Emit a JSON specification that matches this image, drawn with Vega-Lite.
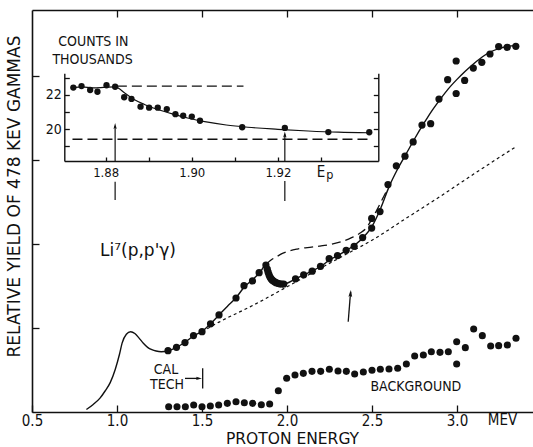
{
"$schema": "https://vega.github.io/schema/vega-lite/v6.json",
"width": 501, "height": 402,
"autosize": {"type": "none"},
"padding": {"left": 32, "top": 10, "right": 0, "bottom": 35},
"background": "white",
"config": {
  "view": {"stroke": null},
  "font": "DejaVu Sans Condensed, DejaVu Sans",
  "axis": {"grid": false, "domainColor": "#111", "tickColor": "#111", "labelColor": "#111", "titleColor": "#111", "domainWidth": 1.6, "tickWidth": 1.3, "titleFontWeight": "normal", "labelFont": "DejaVu Sans Condensed, DejaVu Sans", "titleFont": "DejaVu Sans Condensed, DejaVu Sans"}
},
"layer": [
 {
  "layer": [
   {
    "data": {"values": [
      {"x":1.30,"y":0.73},{"x":1.35,"y":0.77},{"x":1.40,"y":0.826},{"x":1.45,"y":0.91},{"x":1.50,"y":0.956},{"x":1.55,"y":1.05},{"x":1.60,"y":1.156},{"x":1.70,"y":1.357},{"x":1.747,"y":1.504},{"x":1.797,"y":1.56},{"x":1.836,"y":1.659},{"x":1.876,"y":1.75},
      {"x":1.884,"y":1.70},{"x":1.889,"y":1.665},{"x":1.894,"y":1.635},{"x":1.899,"y":1.61},{"x":1.905,"y":1.59},{"x":1.912,"y":1.573},{"x":1.919,"y":1.562},{"x":1.927,"y":1.55},{"x":1.936,"y":1.54},{"x":1.946,"y":1.532},{"x":1.957,"y":1.526},{"x":1.969,"y":1.524},{"x":1.981,"y":1.524},
      {"x":2.05,"y":1.585},{"x":2.098,"y":1.633},{"x":2.148,"y":1.677},{"x":2.197,"y":1.734},{"x":2.248,"y":1.826},{"x":2.297,"y":1.862},{"x":2.348,"y":1.925},{"x":2.395,"y":1.973},{"x":2.445,"y":2.077},{"x":2.498,"y":2.19},{"x":2.498,"y":2.305},{"x":2.547,"y":2.386},{"x":2.594,"y":2.708},{"x":2.643,"y":2.931},{"x":2.694,"y":3.046},{"x":2.742,"y":3.215},{"x":2.794,"y":3.416},{"x":2.845,"y":3.432},{"x":2.894,"y":3.725},{"x":2.945,"y":3.956},{"x":2.995,"y":3.792},{"x":2.995,"y":4.179},{"x":3.045,"y":3.948},{"x":3.096,"y":4.095},{"x":3.146,"y":4.163},{"x":3.194,"y":4.262},{"x":3.245,"y":4.35},{"x":3.295,"y":4.342},{"x":3.346,"y":4.353}
    ]},
    "mark": {"type": "point", "shape": "circle", "filled": true, "color": "#111", "size": 52, "opacity": 1},
    "encoding": {
      "x": {"field": "x", "type": "quantitative", "scale": {"domain": [0.5, 3.447], "nice": false, "zero": false},
        "axis": {"orient": "bottom", "values": [0.5, 1, 1.5, 2, 2.5, 3], "format": ".1f", "tickSize": -7, "labelPadding": 8.5, "labelFontSize": 15, "labelFlush": false, "labelOverlap": false, "title": "PROTON ENERGY", "titleFont": "DejaVu Sans", "titleFontSize": 15.5, "titleX": 260, "titleY": 26, "titleBaseline": "middle", "titleAlign": "center"}},
      "y": {"field": "y", "type": "quantitative", "scale": {"domain": [0, 4.786], "nice": false, "zero": false},
        "axis": {"orient": "left", "values": [1, 2, 3, 4], "labels": false, "tickSize": -7, "title": "RELATIVE YIELD OF 478 KEV GAMMAS", "titleFont": "DejaVu Sans", "titleFontSize": 17, "titleX": -18, "titleY": 186, "titleAngle": 270, "titleAlign": "center", "titleBaseline": "middle"}}
    }
   },
   {
    "data": {"values": [
      {"x":0.82,"y":0.03},{"x":0.86,"y":0.09},{"x":0.90,"y":0.165},{"x":0.93,"y":0.25},{"x":0.96,"y":0.35},{"x":0.99,"y":0.51},{"x":1.015,"y":0.69},{"x":1.03,"y":0.82},{"x":1.055,"y":0.925},{"x":1.08,"y":0.956},{"x":1.105,"y":0.935},{"x":1.13,"y":0.88},{"x":1.155,"y":0.818},{"x":1.18,"y":0.77},{"x":1.205,"y":0.742},{"x":1.23,"y":0.726},{"x":1.26,"y":0.718},{"x":1.30,"y":0.728},{"x":1.35,"y":0.77},{"x":1.40,"y":0.83},{"x":1.45,"y":0.905},{"x":1.50,"y":0.96},{"x":1.55,"y":1.05},{"x":1.60,"y":1.155},{"x":1.65,"y":1.26},{"x":1.70,"y":1.36},{"x":1.75,"y":1.49},{"x":1.80,"y":1.58},{"x":1.84,"y":1.66},{"x":1.876,"y":1.75},{"x":1.885,"y":1.69},{"x":1.895,"y":1.625},{"x":1.91,"y":1.575},{"x":1.93,"y":1.545},{"x":1.955,"y":1.527},{"x":1.98,"y":1.524},{"x":2.05,"y":1.585},{"x":2.10,"y":1.633},{"x":2.15,"y":1.68},{"x":2.20,"y":1.735},{"x":2.25,"y":1.81},{"x":2.30,"y":1.862},{"x":2.35,"y":1.925},{"x":2.40,"y":1.99},{"x":2.45,"y":2.08},{"x":2.50,"y":2.21},{"x":2.55,"y":2.42},{"x":2.60,"y":2.68},{"x":2.65,"y":2.89},{"x":2.70,"y":3.07},{"x":2.75,"y":3.25},{"x":2.80,"y":3.42},{"x":2.85,"y":3.58},{"x":2.90,"y":3.72},{"x":2.95,"y":3.85},{"x":3.00,"y":3.96},{"x":3.05,"y":4.06},{"x":3.10,"y":4.15},{"x":3.15,"y":4.23},{"x":3.20,"y":4.29},{"x":3.25,"y":4.33},{"x":3.30,"y":4.355},{"x":3.35,"y":4.365}
    ]},
    "mark": {"type": "line", "interpolate": "monotone", "color": "#111", "strokeWidth": 1.4},
    "encoding": {
      "x": {"field": "x", "type": "quantitative", "scale": {"domain": [0.5, 3.447], "nice": false, "zero": false}, "axis": null},
      "y": {"field": "y", "type": "quantitative", "scale": {"domain": [0, 4.786], "nice": false, "zero": false}, "axis": null}
    }
   },
   {
    "data": {"values": [
      {"x":1.878,"y":1.76},{"x":1.91,"y":1.815},{"x":1.94,"y":1.85},{"x":1.97,"y":1.885},{"x":2.0,"y":1.91},{"x":2.06,"y":1.94},{"x":2.12,"y":1.958},{"x":2.19,"y":1.975},{"x":2.26,"y":1.997},{"x":2.32,"y":2.027},{"x":2.38,"y":2.075},{"x":2.43,"y":2.13},{"x":2.47,"y":2.2},{"x":2.50,"y":2.3},{"x":2.53,"y":2.41},{"x":2.56,"y":2.53},{"x":2.585,"y":2.63},{"x":2.60,"y":2.70}
    ]},
    "mark": {"type": "line", "interpolate": "monotone", "color": "#111", "strokeWidth": 1.3, "strokeDash": [9, 5]},
    "encoding": {
      "x": {"field": "x", "type": "quantitative", "scale": {"domain": [0.5, 3.447], "nice": false, "zero": false}, "axis": null},
      "y": {"field": "y", "type": "quantitative", "scale": {"domain": [0, 4.786], "nice": false, "zero": false}, "axis": null}
    }
   },
   {
    "data": {"values": [
      {"x":1.50,"y":0.956},{"x":1.60,"y":1.07},{"x":1.80,"y":1.27},{"x":2.00,"y":1.49},{"x":2.20,"y":1.715},{"x":2.35,"y":1.88},{"x":2.50,"y":2.045},{"x":2.70,"y":2.305},{"x":2.90,"y":2.565},{"x":3.10,"y":2.835},{"x":3.34,"y":3.15}
    ]},
    "mark": {"type": "line", "interpolate": "monotone", "color": "#111", "strokeWidth": 1.2, "strokeDash": [3, 3]},
    "encoding": {
      "x": {"field": "x", "type": "quantitative", "scale": {"domain": [0.5, 3.447], "nice": false, "zero": false},
        "axis": {"orient": "top", "values": [1, 1.5, 2, 2.5, 3], "labels": false, "tickSize": -7, "title": null}},
      "y": {"field": "y", "type": "quantitative", "scale": {"domain": [0, 4.786], "nice": false, "zero": false}, "axis": null}
    }
   },
   {
    "data": {"values": [
      {"x":1.304,"y":0.063},{"x":1.353,"y":0.063},{"x":1.402,"y":0.063},{"x":1.451,"y":0.083},{"x":1.5,"y":0.063},{"x":1.549,"y":0.071},{"x":1.598,"y":0.083},{"x":1.649,"y":0.103},{"x":1.7,"y":0.123},{"x":1.749,"y":0.111},{"x":1.798,"y":0.103},{"x":1.849,"y":0.087},{"x":1.898,"y":0.095},{"x":1.949,"y":0.254},{"x":1.998,"y":0.401},{"x":2.047,"y":0.44},{"x":2.096,"y":0.46},{"x":2.147,"y":0.484},{"x":2.198,"y":0.484},{"x":2.249,"y":0.508},{"x":2.3,"y":0.488},{"x":2.349,"y":0.484},{"x":2.398,"y":0.452},{"x":2.449,"y":0.476},{"x":2.5,"y":0.496},{"x":2.549,"y":0.508},{"x":2.6,"y":0.512},{"x":2.651,"y":0.52},{"x":2.702,"y":0.571},{"x":2.751,"y":0.667},{"x":2.802,"y":0.679},{"x":2.849,"y":0.718},{"x":2.9,"y":0.71},{"x":2.949,"y":0.718},{"x":2.998,"y":0.837},{"x":2.998,"y":0.571},{"x":3.049,"y":0.766},{"x":3.098,"y":0.988},{"x":3.149,"y":0.909},{"x":3.198,"y":0.786},{"x":3.245,"y":0.79},{"x":3.296,"y":0.798},{"x":3.347,"y":0.877}
    ]},
    "mark": {"type": "point", "shape": "circle", "filled": true, "color": "#111", "size": 50, "opacity": 1},
    "encoding": {
      "x": {"field": "x", "type": "quantitative", "scale": {"domain": [0.5, 3.447], "nice": false, "zero": false}, "axis": null},
      "y": {"field": "y", "type": "quantitative", "scale": {"domain": [0, 4.786], "nice": false, "zero": false}, "axis": null}
    }
   },
   {
    "data": {"values": [
      {"x":2.36,"y":1.075,"x2":2.374,"y2":1.43},
      {"x":1.40,"y":0.40,"x2":1.48,"y2":0.40},
      {"x":1.504,"y":0.28,"x2":1.504,"y2":0.52}
    ]},
    "mark": {"type": "rule", "color": "#111", "strokeWidth": 1.3},
    "encoding": {
      "x": {"field": "x", "type": "quantitative", "scale": {"domain": [0.5, 3.447], "nice": false, "zero": false}, "axis": null},
      "y": {"field": "y", "type": "quantitative", "scale": {"domain": [0, 4.786], "nice": false, "zero": false}, "axis": null},
      "x2": {"field": "x2"},
      "y2": {"field": "y2"}
    }
   },
   {
    "data": {"values": [{"x":2.374,"y":1.411}]},
    "mark": {"type": "point", "shape": "M 0 -1 L 0.55 1 L 0 0.6 L -0.55 1 Z", "filled": true, "color": "#111", "size": 49, "angle": 5, "opacity": 1},
    "encoding": {
      "x": {"field": "x", "type": "quantitative", "scale": {"domain": [0.5, 3.447], "nice": false, "zero": false}, "axis": null},
      "y": {"field": "y", "type": "quantitative", "scale": {"domain": [0, 4.786], "nice": false, "zero": false}, "axis": null}
    }
   },
   {
    "data": {"values": [{"x":1.482,"y":0.40}]},
    "mark": {"type": "point", "shape": "M 0 -1 L 0.55 1 L 0 0.6 L -0.55 1 Z", "filled": true, "color": "#111", "size": 36, "angle": 90, "opacity": 1},
    "encoding": {
      "x": {"field": "x", "type": "quantitative", "scale": {"domain": [0.5, 3.447], "nice": false, "zero": false}, "axis": null},
      "y": {"field": "y", "type": "quantitative", "scale": {"domain": [0, 4.786], "nice": false, "zero": false}, "axis": null}
    }
   },
   {
    "data": {"values": [
      {"x":0.861,"y":4.405,"t":"COUNTS IN"},
      {"x":0.856,"y":4.19,"t":"THOUSANDS"},
      {"x":1.288,"y":0.5,"t":"CAL"},
      {"x":1.294,"y":0.321,"t":"TECH"},
      {"x":2.758,"y":0.292,"t":"BACKGROUND"}
    ]},
    "mark": {"type": "text", "color": "#111", "fontSize": 14, "align": "center", "baseline": "middle", "font": "DejaVu Sans Condensed, DejaVu Sans"},
    "encoding": {
      "x": {"field": "x", "type": "quantitative", "scale": {"domain": [0.5, 3.447], "nice": false, "zero": false}, "axis": null},
      "y": {"field": "y", "type": "quantitative", "scale": {"domain": [0, 4.786], "nice": false, "zero": false}, "axis": null},
      "text": {"field": "t"}
    }
   },
   {
    "data": {"values": [{"x":3.268,"y":-0.1,"t":"MEV"}]},
    "mark": {"type": "text", "color": "#111", "fontSize": 15, "align": "center", "baseline": "middle", "font": "DejaVu Sans Condensed, DejaVu Sans"},
    "encoding": {
      "x": {"field": "x", "type": "quantitative", "scale": {"domain": [0.5, 3.447], "nice": false, "zero": false}, "axis": null},
      "y": {"field": "y", "type": "quantitative", "scale": {"domain": [0, 4.786], "nice": false, "zero": false}, "axis": null},
      "text": {"field": "t"}
    }
   },
   {
    "data": {"values": [{"x":0.9,"y":1.913,"t":"Li⁷(p,p'γ)"}]},
    "mark": {"type": "text", "color": "#111", "fontSize": 17, "align": "left", "baseline": "middle", "font": "DejaVu Sans"},
    "encoding": {
      "x": {"field": "x", "type": "quantitative", "scale": {"domain": [0.5, 3.447], "nice": false, "zero": false}, "axis": null},
      "y": {"field": "y", "type": "quantitative", "scale": {"domain": [0, 4.786], "nice": false, "zero": false}, "axis": null},
      "text": {"field": "t"}
    }
   }
  ],
  "resolve": {"axis": {"x": "independent", "y": "independent"}}
 },
 {
  "layer": [
   {
    "data": {"values": [
      {"x":1.8725,"y":22.43},{"x":1.8745,"y":22.47},{"x":1.877,"y":22.42},{"x":1.8795,"y":22.44},{"x":1.8822,"y":22.47},{"x":1.8845,"y":22.1},{"x":1.8865,"y":21.75},{"x":1.889,"y":21.45},{"x":1.892,"y":21.17},{"x":1.8955,"y":20.9},{"x":1.899,"y":20.66},{"x":1.903,"y":20.45},{"x":1.908,"y":20.25},{"x":1.913,"y":20.12},{"x":1.920,"y":20.0},{"x":1.927,"y":19.9},{"x":1.934,"y":19.83},{"x":1.941,"y":19.8}
    ]},
    "mark": {"type": "line", "interpolate": "monotone", "color": "#111", "strokeWidth": 1.2},
    "encoding": {
      "x": {"field": "x", "type": "quantitative", "scale": {"domain": [1.8704, 1.9433], "range": [32.3, 346.3], "nice": false, "zero": false},
        "axis": {"orient": "bottom", "offset": -251, "values": [1.88, 1.89, 1.9, 1.91, 1.92, 1.93], "tickSize": -4, "labelPadding": 9, "labelFontSize": 13, "labelFlush": false, "labelOverlap": false, "domainWidth": 1.4, "title": null,
          "labelExpr": "(datum.value < 1.885 || (datum.value > 1.895 && datum.value < 1.905) || (datum.value > 1.915 && datum.value < 1.925)) ? format(datum.value, '.2f') : ''"}},
      "y": {"field": "y", "type": "quantitative", "scale": {"domain": [18.152, 23.265], "range": [151, 63.3], "nice": false, "zero": false},
        "axis": {"orient": "left", "offset": -32.3, "values": [19, 20, 21, 22, 23], "tickSize": -5, "labelPadding": 8, "labelFontSize": 14, "domainWidth": 1.4, "title": null,
          "labelExpr": "(datum.value == 20 || datum.value == 22) ? datum.label : ''"}}
    }
   },
   {
    "data": {"values": [
      {"x":1.8725,"y":22.43},{"x":1.8744,"y":22.52},{"x":1.8764,"y":22.29},{"x":1.8781,"y":22.19},{"x":1.8802,"y":22.57},{"x":1.8822,"y":22.48},{"x":1.8843,"y":21.87},{"x":1.8860,"y":21.77},{"x":1.8881,"y":21.32},{"x":1.8901,"y":21.26},{"x":1.8921,"y":21.26},{"x":1.8942,"y":21.18},{"x":1.8962,"y":20.88},{"x":1.8980,"y":20.79},{"x":1.9000,"y":20.74},{"x":1.9019,"y":20.50},{"x":1.9117,"y":20.12},{"x":1.9216,"y":20.08},{"x":1.9317,"y":19.84},{"x":1.9412,"y":19.83}
    ]},
    "mark": {"type": "point", "shape": "circle", "filled": true, "color": "#111", "size": 40, "opacity": 1},
    "encoding": {
      "x": {"field": "x", "type": "quantitative", "scale": {"domain": [1.8704, 1.9433], "range": [32.3, 346.3], "nice": false, "zero": false}, "axis": null},
      "y": {"field": "y", "type": "quantitative", "scale": {"domain": [18.152, 23.265], "range": [151, 63.3], "nice": false, "zero": false},
        "axis": {"orient": "right", "offset": -154.7, "values": [19, 20, 21, 22, 23], "tickSize": -5, "labels": false, "domainWidth": 1.4, "title": null}}
    }
   },
   {
    "data": {"values": [
      {"x":1.8826,"x2":1.912,"y":22.52},
      {"x":1.8723,"x2":1.9412,"y":19.42}
    ]},
    "mark": {"type": "rule", "color": "#111", "strokeWidth": 1.3, "strokeDash": [10, 5]},
    "encoding": {
      "x": {"field": "x", "type": "quantitative", "scale": {"domain": [1.8704, 1.9433], "range": [32.3, 346.3], "nice": false, "zero": false}, "axis": null},
      "x2": {"field": "x2"},
      "y": {"field": "y", "type": "quantitative", "scale": {"domain": [18.152, 23.265], "range": [151, 63.3], "nice": false, "zero": false}, "axis": null}
    }
   },
   {
    "data": {"values": [
      {"x":1.8822,"y":18.152,"y2":20.19},
      {"x":1.8822,"y":16.94,"y2":15.88},
      {"x":1.9216,"y":18.152,"y2":19.69},
      {"x":1.9216,"y":16.98,"y2":15.82}
    ]},
    "mark": {"type": "rule", "color": "#111", "strokeWidth": 1.2},
    "encoding": {
      "x": {"field": "x", "type": "quantitative", "scale": {"domain": [1.8704, 1.9433], "range": [32.3, 346.3], "nice": false, "zero": false}, "axis": null},
      "y": {"field": "y", "type": "quantitative", "scale": {"domain": [18.152, 23.265], "range": [151, 63.3], "nice": false, "zero": false}, "axis": null},
      "y2": {"field": "y2"}
    }
   },
   {
    "data": {"values": [{"x":1.8822,"y":20.19},{"x":1.9216,"y":19.69}]},
    "mark": {"type": "point", "shape": "M 0 -1 L 0.55 1 L 0 0.6 L -0.55 1 Z", "filled": true, "color": "#111", "size": 36, "opacity": 1},
    "encoding": {
      "x": {"field": "x", "type": "quantitative", "scale": {"domain": [1.8704, 1.9433], "range": [32.3, 346.3], "nice": false, "zero": false}, "axis": null},
      "y": {"field": "y", "type": "quantitative", "scale": {"domain": [18.152, 23.265], "range": [151, 63.3], "nice": false, "zero": false}, "axis": null}
    }
   },
   {
    "data": {"values": [{"x":1.93,"y":17.24,"t":"E"}]},
    "mark": {"type": "text", "color": "#111", "fontSize": 15, "align": "center", "baseline": "alphabetic", "font": "DejaVu Sans Condensed, DejaVu Sans"},
    "encoding": {
      "x": {"field": "x", "type": "quantitative", "scale": {"domain": [1.8704, 1.9433], "range": [32.3, 346.3], "nice": false, "zero": false}, "axis": null},
      "y": {"field": "y", "type": "quantitative", "scale": {"domain": [18.152, 23.265], "range": [151, 63.3], "nice": false, "zero": false}, "axis": null},
      "text": {"field": "t"}
    }
   },
   {
    "data": {"values": [{"x":1.9312,"y":17.13,"t":"p"}]},
    "mark": {"type": "text", "color": "#111", "fontSize": 12.5, "align": "left", "baseline": "alphabetic", "font": "DejaVu Sans Condensed, DejaVu Sans"},
    "encoding": {
      "x": {"field": "x", "type": "quantitative", "scale": {"domain": [1.8704, 1.9433], "range": [32.3, 346.3], "nice": false, "zero": false}, "axis": null},
      "y": {"field": "y", "type": "quantitative", "scale": {"domain": [18.152, 23.265], "range": [151, 63.3], "nice": false, "zero": false}, "axis": null},
      "text": {"field": "t"}
    }
   }
  ],
  "resolve": {"axis": {"x": "independent", "y": "independent"}}
 }
],
"resolve": {"scale": {"x": "independent", "y": "independent"}}
}
